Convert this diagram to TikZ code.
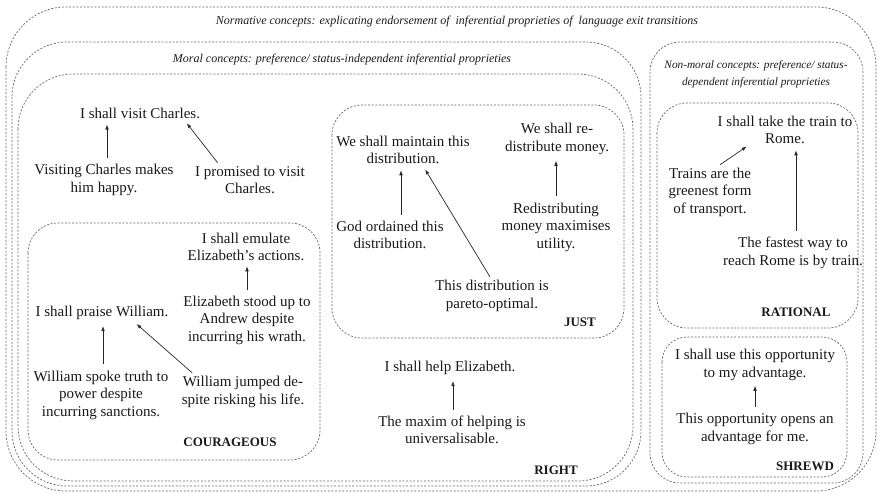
\documentclass[tikz,border=0pt]{standalone}
\usepackage{fontspec}
\setmainfont{Liberation Serif}
\usetikzlibrary{arrows.meta}
\begin{document}
\begin{tikzpicture}[x=1pt,y=-1pt,
  box/.style={draw=black!60, line width=0.7pt, dash pattern=on 2pt off 1.6pt},
  txt/.style={align=center, inner sep=0pt, font=\fontsize{15}{17.5}\selectfont, text=black!90},
  ttl/.style={align=center, inner sep=0pt, font=\fontsize{12}{17}\selectfont\itshape, text=black!90},
  lbl/.style={inner sep=0pt, font=\fontsize{13}{15}\selectfont\bfseries, text=black!90},
  arr/.style={-{Latex[length=5pt,width=3.6pt]}, line width=0.7pt, draw=black!85}]
\useasboundingbox (0,0) rectangle (878,494);
% boxes
\draw[box, rounded corners=60] (6,7) rectangle (876,491);
\draw[box, rounded corners=55] (12,42) rectangle (641,486);
\draw[box, rounded corners=55] (18,74) rectangle (633,481);
\draw[box, rounded corners=30] (28,223) rectangle (320,460);
\draw[box, rounded corners=30] (332,105) rectangle (624,338);
\draw[box, rounded corners=30] (650,42) rectangle (863,483);
\draw[box, rounded corners=30] (657,103) rectangle (858,328);
\draw[box, rounded corners=25] (662,337) rectangle (847,477);
% titles
\node[ttl] (tnorm) at (457,22) {Normative concepts: explicating endorsement of\ \ inferential proprieties of\ \ language exit transitions};
\node[ttl] (tmoral) at (342,60) {Moral concepts: preference/ status-independent inferential proprieties};
\node[ttl, font=\fontsize{11.3}{17}\selectfont\itshape] (tnon) at (756,74) {Non-moral concepts: preference/ status-\\dependent inferential proprieties};
% right / courageous
\node[txt] (visit) at (140,113) {I shall visit Charles.};
\node[txt] (vch) at (104,180) {Visiting Charles makes\\him happy.};
\node[txt] (prom) at (250,180) {I promised to visit\\Charles.};
\node[txt] (emul) at (246,247) {I shall emulate\\Elizabeth’s actions.};
\node[txt] (eliz) at (247,320) {Elizabeth stood up to\\Andrew despite\\incurring his wrath.};
\node[txt] (praise) at (102,313) {I shall praise William.};
\node[txt] (spoke) at (101,395) {William spoke truth to\\power despite\\incurring sanctions.};
\node[txt] (jump) at (243,392) {William jumped de-\\spite risking his life.};
\node[lbl] (cour) at (230,442) {COURAGEOUS};
% just
\node[txt] (maint) at (403,150) {We shall maintain this\\distribution.};
\node[txt] (redist) at (557,139) {We shall re-\\distribute money.};
\node[txt] (god) at (390,235) {God ordained this\\distribution.};
\node[txt] (redmon) at (556,227) {Redistributing\\money maximises\\utility.};
\node[txt] (pareto) at (492,296) {This distribution is\\pareto-optimal.};
\node[lbl] (just) at (580,322) {JUST};
% right
\node[txt] (help) at (450,368) {I shall help Elizabeth.};
\node[txt] (maxim) at (452,430) {The maxim of helping is\\universalisable.};
\node[lbl] (rightl) at (556,470) {RIGHT};
% rational
\node[txt] (train) at (785,130) {I shall take the train to\\Rome.};
\node[txt] (green) at (710,192) {Trains are the\\greenest form\\of transport.};
\node[txt] (fast) at (793,253) {The fastest way to\\reach Rome is by train.};
\node[lbl] (rat) at (796,312) {RATIONAL};
% shrewd
\node[txt] (use) at (755,365) {I shall use this opportunity\\to my advantage.};
\node[txt] (opp) at (755,429) {This opportunity opens an\\advantage for me.};
\node[lbl] (shr) at (805,466) {SHREWD};
% arrows
\draw[arr, shorten <=6pt, shorten >=6pt] ([xshift=3pt]vch.north) -- ([xshift=3pt]vch.north |- visit.south);
\draw[arr, shorten <=4pt, shorten >=6pt] ([xshift=-30pt]prom.north) -- ([xshift=43pt]visit.south);
\draw[arr, shorten <=5pt, shorten >=5pt] (eliz.north) -- (eliz.north |- emul.south);
\draw[arr, shorten <=6pt, shorten >=6pt] ([xshift=2pt]spoke.north) -- ([xshift=2pt]spoke.north |- praise.south);
\draw[arr, shorten <=5pt, shorten >=6pt] ([xshift=-47pt]jump.north) -- ([xshift=30pt]praise.south);
\draw[arr, shorten <=6pt, shorten >=6pt] ([xshift=11pt]god.north) -- ([xshift=11pt]god.north |- maint.south);
\draw[arr, shorten <=4pt, shorten >=6pt] (pareto.north) -- ([xshift=19pt]maint.south);
\draw[arr, shorten <=6pt, shorten >=6pt] (redmon.north) -- (redmon.north |- redist.south);
\draw[arr, shorten <=6pt, shorten >=6pt] ([xshift=1pt]maxim.north) -- ([xshift=1pt]maxim.north |- help.south);
\draw[arr, shorten <=5pt, shorten >=4pt] ([xshift=6pt]green.north) -- ([xshift=-35pt]train.south);
\draw[arr, shorten <=6pt, shorten >=6pt] ([xshift=3pt]fast.north) -- ([xshift=3pt]fast.north |- train.south);
\draw[arr, shorten <=6pt, shorten >=5pt] (opp.north) -- (opp.north |- use.south);
\end{tikzpicture}
\end{document}
